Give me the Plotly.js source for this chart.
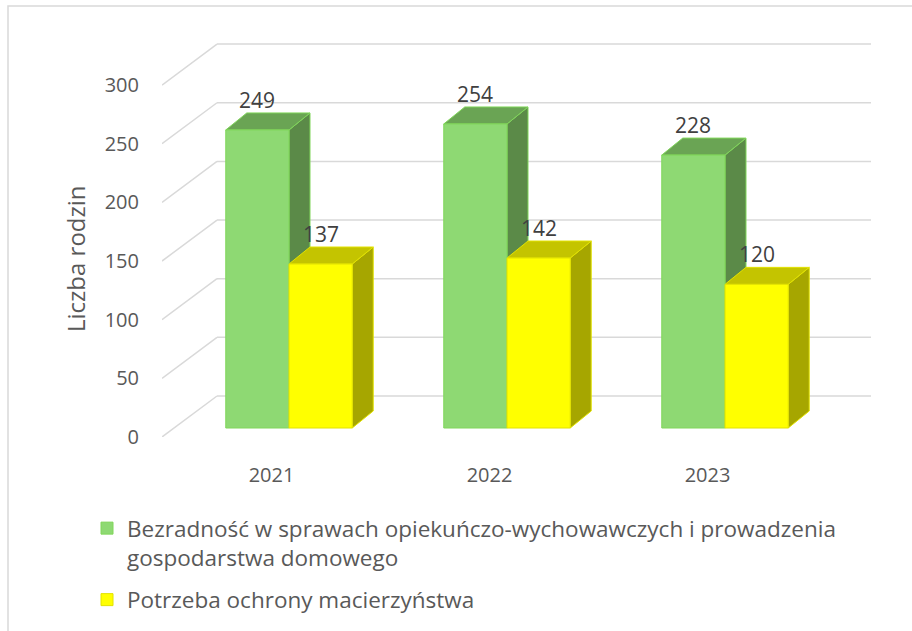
<!DOCTYPE html>
<html>
<head>
<meta charset="utf-8">
<script src="https://cdn.plot.ly/plotly-3.0.1.min.js"></script>
<style>html,body{margin:0;padding:0;background:#fff;}#chart{width:912px;height:631px;}</style>
</head>
<body>
<div id="chart"></div>
<script>
// ---- data ----
const years = ['2021', '2022', '2023'];
const bezradnosc = [249, 254, 228];
const ochronaMacierzynstwa = [137, 142, 120];
const seriesNames = [
  'Bezradność w sprawach opiekuńczo-wychowawczych i prowadzenia<br>gospodarstwa domowego',
  'Potrzeba ochrony macierzyństwa'
];
const yTicks = [0, 50, 100, 150, 200, 250, 300];
const yTitle = 'Liczba rodzin';

// ---- geometry / style ----
const G = {
  W: 912, H: 631, left: 162, right: 871, top: 20, bottom: 437,
  frontPx: 1.173,      // px per unit on the front (tick) scale
  barZeroPx: 428, barPx: 1.197, // bar scale
  catPx: 218, catZeroPx: 289,
  backDx: 55, backDy: 41,       // wall offset
  depthDx: 21, depthDy: 17,     // bar depth
  barW: 0.29, labelShift: -17.5
};
const FONT = 'Open Sans, Liberation Sans, sans-serif';
const TXT = '#595959';
const colors = {
  green: {front: '#8ED973', top: '#6AA454', side: '#5B8A48', line: '#80D65A'},
  yellow: {front: '#FFFF00', top: '#C4C400', side: '#A6A600', line: '#E2E200'}
};

const plotW = G.right - G.left, plotH = G.bottom - G.top;
const xRange = [(G.left - G.catZeroPx) / G.catPx, (G.right - G.catZeroPx) / G.catPx];
const yRange = [0, plotH / G.frontPx];
const y2Range = [-(G.bottom - G.barZeroPx) / G.barPx, (G.barZeroPx - G.top) / G.barPx];
const idx = years.map((_, i) => i);

const shapes = [];
// chart border
shapes.push({type: 'rect', xref: 'paper', yref: 'paper',
  x0: (8 - G.left) / plotW, x1: (G.W + 2 - G.left) / plotW,
  y0: (G.bottom - G.H - 2) / plotH, y1: (G.bottom - 6) / plotH,
  line: {color: '#D9D9D9', width: 1.5}, fillcolor: 'rgba(0,0,0,0)', layer: 'below'});
// 3D gridlines
const backX = xRange[0] + G.backDx / G.catPx;
yTicks.forEach(t => {
  const yb = t + G.backDy / G.frontPx;
  shapes.push({type: 'line', xref: 'x', yref: 'y', x0: xRange[0], y0: t, x1: backX, y1: yb,
    line: {color: '#D9D9D9', width: 1.5}, layer: 'below'});
  shapes.push({type: 'line', xref: 'x', yref: 'y', x0: backX, y0: yb, x1: xRange[1], y1: yb,
    line: {color: '#D9D9D9', width: 1.5}, layer: 'below'});
});
// 3D faces of the bars
const dxU = G.depthDx / G.catPx, dyU = G.depthDy / G.barPx;
function faces(values, offset, c) {
  values.forEach((v, i) => {
    const x0 = i + offset, x1 = x0 + G.barW;
    shapes.push({type: 'path', xref: 'x', yref: 'y2', layer: 'below',
      path: `M${x1},0 L${x1 + dxU},${dyU} L${x1 + dxU},${v + dyU} L${x1},${v} Z`,
      fillcolor: c.side, line: {color: c.line, width: 1}});
    shapes.push({type: 'path', xref: 'x', yref: 'y2', layer: 'below',
      path: `M${x0},${v} L${x1},${v} L${x1 + dxU},${v + dyU} L${x0 + dxU},${v + dyU} Z`,
      fillcolor: c.top, line: {color: c.line, width: 1}});
  });
}
faces(bezradnosc, -G.barW, colors.green);
faces(ochronaMacierzynstwa, 0, colors.yellow);

// data labels
const annotations = [];
function labels(values, offset) {
  values.forEach((v, i) => {
    annotations.push({xref: 'x', yref: 'y2', x: i + offset + G.barW / 2, y: v + dyU,
      text: String(v), showarrow: false, yanchor: 'bottom', yshift: -3,
      font: {family: FONT, size: 21, color: '#404040'}});
  });
}
labels(bezradnosc, -G.barW);
labels(ochronaMacierzynstwa, 0);
annotations.push({xref: 'paper', yref: 'paper', x: (75 - G.left) / plotW, y: (G.bottom - 259) / plotH,
  text: yTitle, textangle: -90, showarrow: false, xanchor: 'center', yanchor: 'middle',
  font: {family: FONT, size: 24, color: TXT}});

const traces = [
  {type: 'bar', x: idx, y: bezradnosc, name: seriesNames[0], yaxis: 'y2',
   offset: -G.barW, width: G.barW, legendgroup: 'a',
   marker: {color: colors.green.front, line: {color: colors.green.line, width: 1}},
   hoverinfo: 'y'},
  {type: 'bar', x: idx, y: ochronaMacierzynstwa, name: seriesNames[1], yaxis: 'y2',
   offset: 0, width: G.barW, legendgroup: 'b',
   marker: {color: colors.yellow.front, line: {color: colors.yellow.line, width: 1}},
   hoverinfo: 'y'}
];

const layout = {
  width: G.W, height: G.H,
  margin: {l: G.left, r: G.W - G.right, t: G.top, b: G.H - G.bottom, autoexpand: false},
  paper_bgcolor: '#fff', plot_bgcolor: 'rgba(0,0,0,0)',
  barmode: 'overlay',
  font: {family: FONT, color: TXT},
  xaxis: {type: 'linear', range: xRange, showgrid: false, zeroline: false, showline: false,
    tickvals: idx.map(i => i + G.labelShift / G.catPx), ticktext: years,
    ticks: 'outside', ticklen: 20, tickcolor: 'rgba(0,0,0,0)',
    tickfont: {family: FONT, size: 20, color: TXT}, fixedrange: true},
  yaxis: {range: yRange, showgrid: false, zeroline: false, showline: false,
    tickvals: yTicks, ticks: 'outside', ticklen: 18, tickcolor: 'rgba(0,0,0,0)',
    tickfont: {family: FONT, size: 20, color: TXT}, fixedrange: true},
  yaxis2: {range: y2Range, overlaying: 'y', visible: false, fixedrange: true},
  showlegend: true,
  legend: {x: (87 - G.left) / plotW, y: (G.bottom - 507) / plotH, xanchor: 'left', yanchor: 'top',
    orientation: 'v', traceorder: 'grouped', tracegroupgap: 10, valign: 'top',
    bgcolor: 'rgba(0,0,0,0)', font: {family: FONT, size: 22.5, color: TXT}},
  shapes: shapes,
  annotations: annotations
};

Plotly.newPlot('chart', traces, layout, {displayModeBar: false, staticPlot: true});
</script>
</body>
</html>
